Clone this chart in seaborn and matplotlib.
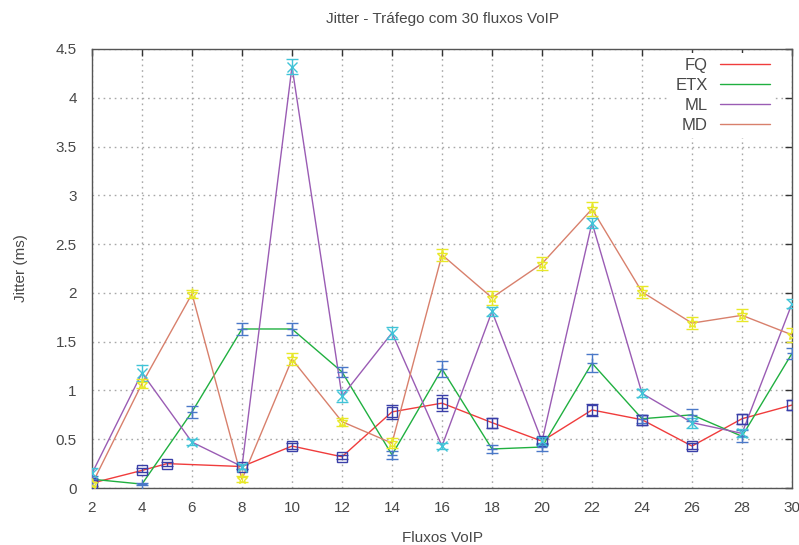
import matplotlib
matplotlib.use("Agg")
import matplotlib.pyplot as plt
import seaborn as sns

# valores (jitter em ms)
x_fq = [2, 4, 5, 8, 10, 12, 14, 16, 18, 20, 22, 24, 26, 28, 30]
x_all = [2, 4, 6, 8, 10, 12, 14, 16, 18, 20, 22, 24, 26, 28, 30]

fq = [0.05, 0.18, 0.25, 0.22, 0.43, 0.32, 0.78, 0.87, 0.67, 0.48, 0.80, 0.70, 0.43, 0.71, 0.85]
fq_err = [0.03, 0.02, 0.02, 0.03, 0.03, 0.02, 0.07, 0.08, 0.05, 0.03, 0.06, 0.05, 0.03, 0.05, 0.05]

etx = [0.09, 0.04, 0.78, 1.63, 1.63, 1.19, 0.34, 1.22, 0.40, 0.42, 1.28, 0.71, 0.75, 0.53, 1.38]
etx_err = [0.03, 0.01, 0.06, 0.06, 0.06, 0.05, 0.04, 0.08, 0.04, 0.04, 0.09, 0.04, 0.06, 0.06, 0.06]

ml = [0.15, 1.18, 0.47, 0.22, 4.32, 0.94, 1.59, 0.43, 1.81, 0.48, 2.72, 0.97, 0.67, 0.56, 1.89]
ml_err = [0.05, 0.08, 0.03, 0.03, 0.08, 0.06, 0.06, 0.03, 0.05, 0.04, 0.05, 0.04, 0.05, 0.04, 0.05]

md = [0.04, 1.07, 1.99, 0.09, 1.32, 0.68, 0.46, 2.39, 1.95, 2.30, 2.86, 2.01, 1.69, 1.77, 1.57]
md_err = [0.02, 0.05, 0.04, 0.03, 0.06, 0.04, 0.05, 0.06, 0.07, 0.07, 0.07, 0.06, 0.06, 0.06, 0.07]

sns.set_style("white")
plt.rcParams["font.family"] = ["Liberation Sans", "DejaVu Sans"]
txt = "#484848"

fig = plt.figure(figsize=(7.99, 5.45), dpi=100)
ax = fig.add_axes([92 / 799, 1 - 488 / 545, 700 / 799, 439 / 545])

series = [
    ("FQ", x_fq, fq, fq_err, "#f03c3c", "s", "#3a3fa8", 7),
    ("ETX", x_all, etx, etx_err, "#20b040", "+", "#4a78c8", 7),
    ("ML", x_all, ml, ml_err, "#9a5cb4", "x", "#40c4d8", 7),
    ("MD", x_all, md, md_err, "#d8806c", "*", "#e8e828", 8),
]

for name, xs, ys, es, lc, mk, mc, ms in series:
    sns.lineplot(x=xs, y=ys, ax=ax, color=lc, lw=1.0, label=name,
                 sort=False, estimator=None, zorder=3)
    ax.errorbar(xs, ys, yerr=es, fmt=mk, color=mc, mfc="none", ms=ms,
                mew=1.0, elinewidth=1.0, capsize=4, capthick=1.0, zorder=4)

ax.set_xlim(2, 30)
ax.set_ylim(0, 4.5)
ax.set_xticks(range(2, 31, 2))
ax.set_yticks([0, 0.5, 1, 1.5, 2, 2.5, 3, 3.5, 4, 4.5])
ax.set_yticklabels(["0", "0.5", "1", "1.5", "2", "2.5", "3", "3.5", "4", "4.5"])

ax.grid(True, color="#a8a8a8", linestyle=(0, (1.2, 2.8)), linewidth=1.0)
ax.set_axisbelow(True)
for s in ax.spines.values():
    s.set_color("#555555")
    s.set_linewidth(1.0)

ax.tick_params(axis="both", direction="in", length=5, width=1, color="#333333",
               top=True, right=True, labelsize=11, labelcolor=txt)
ax.tick_params(axis="x", pad=9)
ax.tick_params(axis="y", pad=11)

ax.set_title("Jitter - Tráfego com 30 fluxos VoIP", fontsize=11, color=txt, pad=19)
ax.set_xlabel("Fluxos VoIP", fontsize=11, color=txt, labelpad=12)
ax.set_ylabel("Jitter (ms)", fontsize=11, color=txt, labelpad=20)

leg = ax.legend(loc="upper right", bbox_to_anchor=(0.976, 0.9916), borderaxespad=0,
                markerfirst=False, frameon=True, fontsize=12,
                handlelength=3.0, handletextpad=0.75, labelspacing=0.3,
                borderpad=0.3)
leg.get_frame().set_facecolor("white")
leg.get_frame().set_edgecolor("none")
leg.get_frame().set_alpha(1.0)
for t in leg.get_texts():
    t.set_color(txt)

fig.savefig("out.png", dpi=100)
